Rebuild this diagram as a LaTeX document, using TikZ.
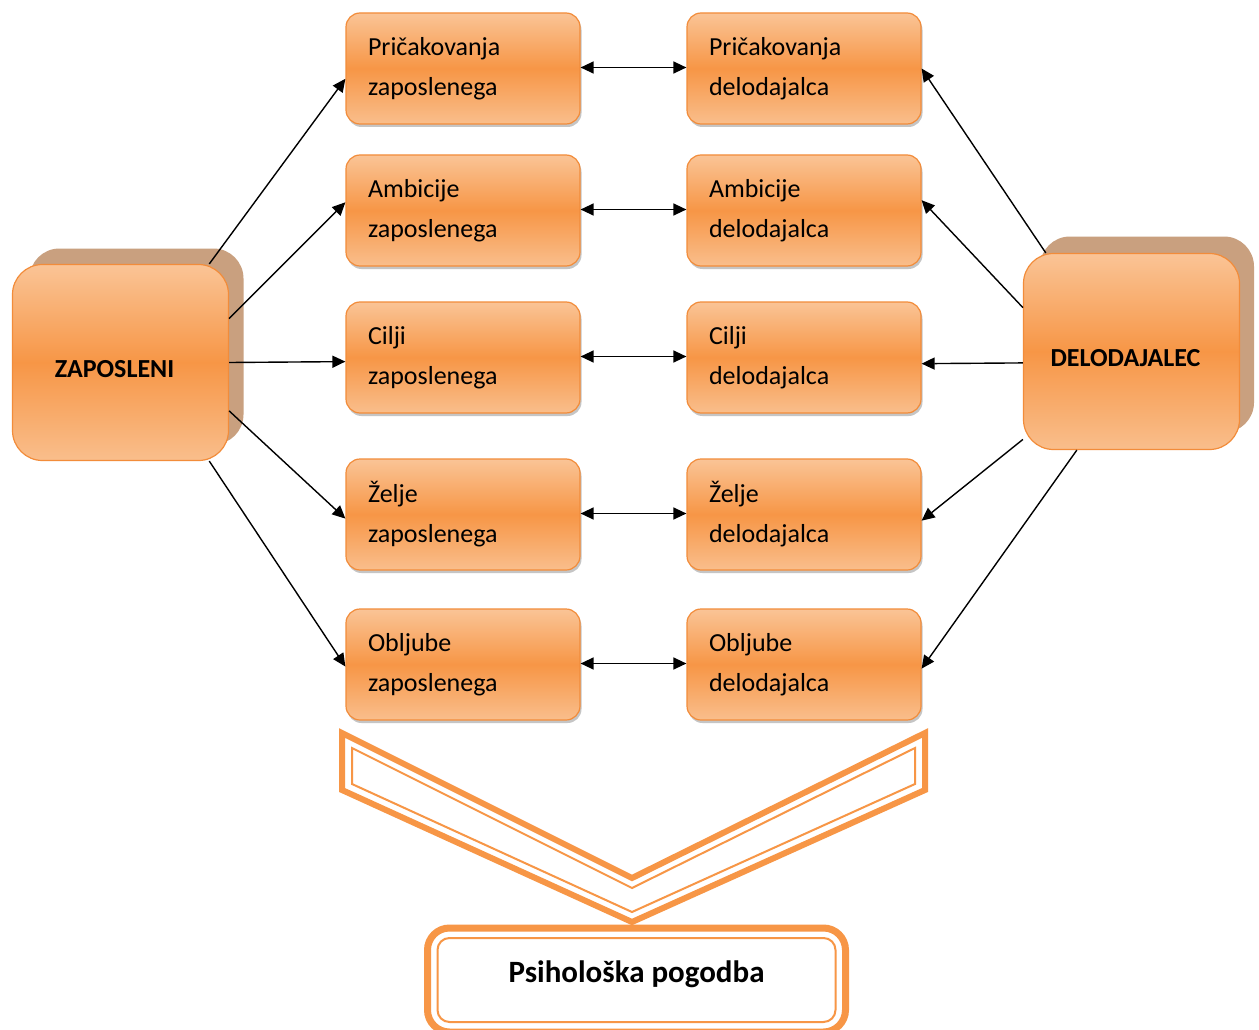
\documentclass[tikz,border=0pt]{standalone}
\usepackage{fontspec}
\setmainfont{Carlito}
\usetikzlibrary{arrows.meta,shadows,calc}

\definecolor{orng}{RGB}{247,150,70}
\definecolor{orngedge}{RGB}{242,140,58}
\definecolor{orngtop}{RGB}{250,196,150}
\definecolor{orngbot}{RGB}{249,190,140}
\definecolor{backshade}{RGB}{201,160,127}

% party label, set slightly lower and to the left of the box centre
\newcommand{\partylabel}[1]{\raisebox{-7pt}[\height][\depth]{#1\hspace*{12pt}}}

\tikzset{
  item/.style={draw=orngedge, line width=1.2pt, rounded corners=14pt,
    top color=orngtop, bottom color=orngbot, middle color=orng,
    minimum width=234pt, minimum height=111pt, text width=190pt,
    align=left, inner xsep=22pt, font=\fontsize{26}{40}\selectfont,
    drop shadow={shadow xshift=1.5pt, shadow yshift=-3pt, fill=black!45, opacity=.5}},
  party/.style={draw=orngedge, line width=1.2pt, rounded corners=30pt,
    top color=orngtop, bottom color=orngbot, middle color=orng,
    minimum width=216pt, minimum height=196pt,
    font=\bfseries\fontsize{26}{30}\selectfont},
  backing/.style={fill=backshade, rounded corners=30pt,
    minimum width=214pt, minimum height=196pt},
  tip/.tip={Triangle[length=13pt,width=12pt]},
  link/.style={-tip, line width=1.4pt},
  pair/.style={tip-tip, line width=1.4pt},
  pogbox/.style={draw=orng, line width=2pt, rounded corners=12pt,
    minimum width=398pt, minimum height=84pt, fill=white},
}

\begin{document}
\begin{tikzpicture}[x=1pt,y=-1pt]
  \useasboundingbox (0,0) rectangle (1259,1030);
  \clip (0,0) rectangle (1259,1030);
  \fill[white] (0,0) rectangle (1259,1030);

  % the two parties, each with its raised backing
  \node[backing] (zapback) at (136.5,346.5) {};
  \node[backing] (delback) at (1147,334.5) {};
  \node[party] (zap) at (120.5,362.5) {\partylabel{ZAPOSLENI}};
  \node[party] (del) at (1131.5,351.5) {\partylabel{DELODAJALEC}};

  % employee column
  \node[item] (p1) at (463,68.5)  {Pričakovanja\\zaposlenega};
  \node[item] (p2) at (463,210.5) {Ambicije\\zaposlenega};
  \node[item] (p3) at (463,357.5) {Cilji\\zaposlenega};
  \node[item] (p4) at (463,514.5) {Želje\\zaposlenega};
  \node[item] (p5) at (463,664.5) {Obljube\\zaposlenega};

  % employer column
  \node[item] (q1) at (804,68.5)  {Pričakovanja\\delodajalca};
  \node[item] (q2) at (804,210.5) {Ambicije\\delodajalca};
  \node[item] (q3) at (804,357.5) {Cilji\\delodajalca};
  \node[item] (q4) at (804,514.5) {Želje\\delodajalca};
  \node[item] (q5) at (804,664.5) {Obljube\\delodajalca};

  % employee to its expectations
  \draw[link] (zap.48)    -- (p1.185);
  \draw[link] (zap.22)    -- (p2.176);
  \draw[link] (zap.0)     -- (p3.182);
  \draw[link] (zap.336.5) -- (p4.182);
  \draw[link] (zap.312.6) -- (p5.181);

  % employer to its expectations
  \draw[link] (del.131) -- (q1.0);
  \draw[link] (del.158) -- (q2.5);
  \draw[link] (del.186) -- (q3.357);
  \draw[link] (del.219) -- (q4.357);
  \draw[link] (del.241) -- (q5.358);

  % mutual relations
  \foreach \i in {1,...,5} {
    \draw[pair] ([yshift=1pt]p\i.east) -- ([yshift=1pt]q\i.west);
  }

  % downward chevron
  \draw[orng, line width=6pt, line join=miter]
    (342,733) -- (632,878) -- (925,733) -- (925,790) -- (632,922) -- (342,790) -- cycle;
  \draw[orng, line width=2pt, line join=miter]
    (352,748) -- (632,888) -- (915,748) -- (915,784) -- (632,912) -- (352,784) -- cycle;

  % resulting contract
  \node[pogbox] (pog) at (636.5,980) {};
  \draw[orng, line width=7pt, rounded corners=22pt]
    ($(pog.south west)+(-9,9)$) rectangle ($(pog.north east)+(9,-9)$);
  \node[font=\bfseries\fontsize{31}{36}\selectfont] (pogtext) at ($(pog.center)+(0,-6)$) {Psihološka pogodba};
\end{tikzpicture}
\end{document}
